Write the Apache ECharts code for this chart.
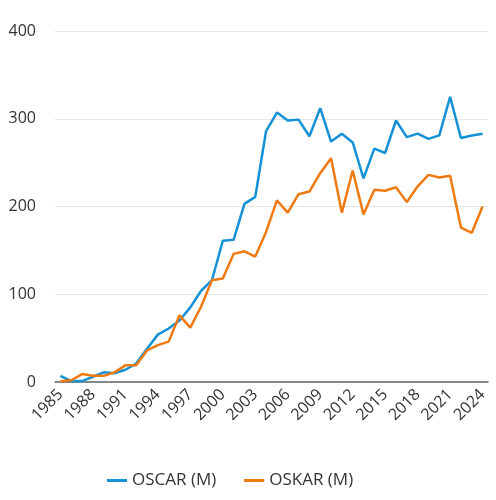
<!DOCTYPE html>
<html>
<head>
<meta charset="utf-8">
<script src="https://cdn.jsdelivr.net/npm/echarts@6/dist/echarts.min.js"></script>
<style>
  html, body { margin: 0; padding: 0; background: #fff; }
  #chart { width: 496px; height: 500px; }
</style>
</head>
<body>
<div id="chart"></div>
<script>
// 年份
const years = [];
for (let y = 1985; y <= 2024; y++) years.push(String(y));

// OSCAR (M)
const oscar = [7, 1, 1, 6, 11, 10, 14, 21, 38, 54, 61, 70, 85, 104, 116,
  161, 162, 203, 211, 286, 307, 298, 299, 280, 312, 274, 283, 273, 232, 266,
  261, 298, 279, 283, 277, 281, 325, 278, 281, 283];

// OSKAR (M)
const oskar = [1, 2, 9, 7, 7, 11, 19, 19, 36, 42, 46, 76, 62, 86, 116,
  118, 146, 149, 143, 171, 207, 193, 214, 217, 238, 255, 193, 241, 191, 219,
  218, 222, 205, 223, 236, 233, 235, 176, 170, 200];

const fontFamily = "'Open Sans', 'Noto Sans', sans-serif";

const myChart = echarts.init(document.getElementById("chart"));

const option = {
  animation: false,
  textStyle: { fontFamily: fontFamily },
  grid: {
    left: 55,
    right: 8,
    top: 31,
    bottom: 118,
    containLabel: false,
  },
  legend: {
    bottom: 6,
    left: 102,
    itemWidth: 20,
    itemHeight: 3,
    itemGap: 28,
    icon: "rect",
    textStyle: { fontSize: 17, color: "#333", fontFamily: fontFamily },
    data: ["OSCAR (M)", "OSKAR (M)"],
  },
  xAxis: {
    type: "category",
    data: years,
    boundaryGap: true,
    axisLine: { lineStyle: { color: "#666", width: 1.5 } },
    axisTick: { show: false },
    axisLabel: {
      interval: 2,
      rotate: 45,
      fontSize: 16,
      color: "#333",
      margin: 10,
    },
  },
  yAxis: {
    type: "value",
    min: 0,
    max: 400,
    interval: 100,
    axisLine: { show: false },
    axisTick: { show: false },
    axisLabel: { fontSize: 16, color: "#333", margin: 19 },
    splitLine: { lineStyle: { color: "#e6e6e6", width: 1 } },
  },
  series: [
    {
      name: "OSCAR (M)",
      type: "line",
      data: oscar,
      showSymbol: false,
      color: "#1591d6",
      lineStyle: { width: 2.5 },
    },
    {
      name: "OSKAR (M)",
      type: "line",
      data: oskar,
      showSymbol: false,
      color: "#ef7a12",
      lineStyle: { width: 2.5 },
    },
  ],
};

myChart.setOption(option);
</script>
</body>
</html>
